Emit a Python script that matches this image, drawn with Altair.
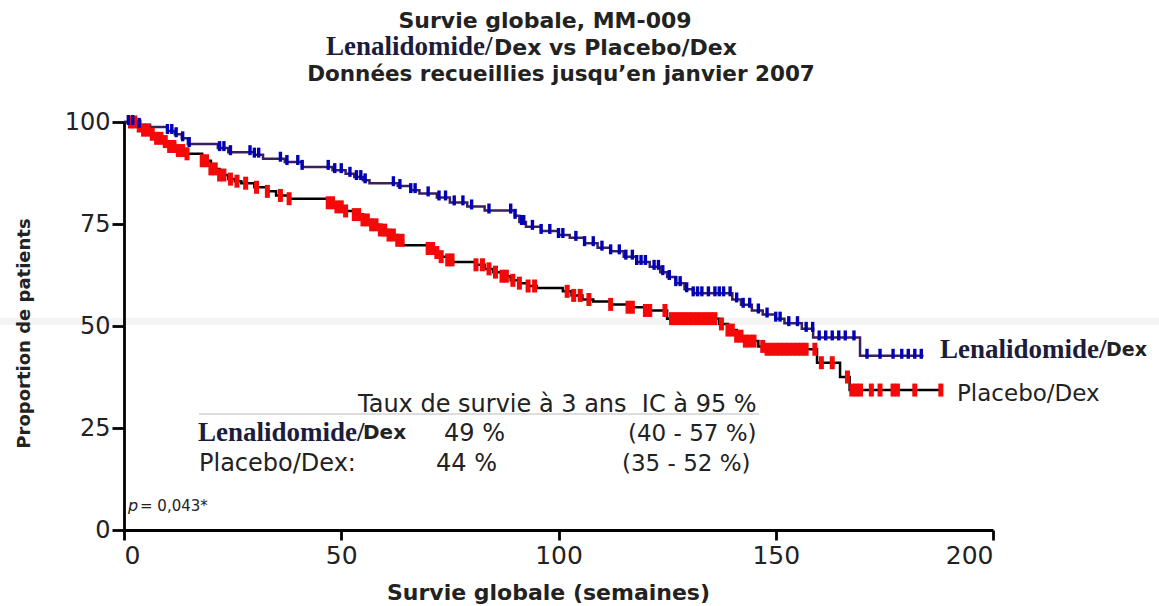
import altair as alt
import pandas as pd

# ---------------- data ----------------
len_weeks = [0, 3, 6, 10, 11.7, 13.3, 14.7, 21.6, 24, 30, 32, 37, 41, 48, 51, 53, 55, 56.5,
             63, 66, 68, 72, 75, 79, 83, 90, 91, 92.5, 96, 100, 102.6, 106, 109, 112, 115,
             118, 121, 123.4, 125, 127, 129, 131, 140, 142, 144.5, 147, 150, 152, 156, 158.6,
             169.4, 184]
len_surv = [100, 99.3, 98.8, 97.8, 97, 96, 94.6, 93.6, 92.6, 92, 91, 90.2, 89, 88.2, 87.3, 86.5,
            85.7, 85, 84.3, 83.3, 82.5, 81.5, 80.3, 79.3, 78.3, 77, 75.5, 74.3, 73.3, 72.3, 71.6,
            70.3, 69.2, 68.3, 67, 65.7, 64.5, 63.2, 62, 60.5, 59, 58, 56.5, 55.2, 53.8, 52.8, 51.8,
            50.7, 49.3, 47.2, 42.7, 42.7]
len_censor = [1, 2, 3.5, 10, 11, 12, 13.5, 15, 22, 23, 24.5, 29, 30, 31, 36, 37.5, 40, 41, 47, 48.5,
              50, 52, 53.5, 54.5, 55.5, 62, 63.5, 66, 67, 70, 72.5, 74, 76, 78, 80, 84, 89, 90,
              91.5, 92, 94, 96, 98, 100, 101, 104, 106, 108, 110, 112, 114, 115.5, 117, 118, 119,
              120, 122, 123, 124, 125.5, 127, 128, 129.5, 131, 132, 133, 134.5, 136, 137, 138,
              139.5, 141, 142.5, 144, 146, 148, 150, 151, 153, 155, 157, 158.5, 160, 161.5, 163,
              164.5, 166, 168, 171, 174, 177, 179, 180.5, 182, 183.5]

pla_weeks = [0, 3, 4.5, 6, 7.5, 9, 10.5, 12, 14, 18, 20, 22, 24, 25.5, 27, 30, 33, 35, 38, 47, 49,
             51, 53, 55, 57, 59, 61, 63, 64.2, 70, 71.5, 73, 74.5, 75.7, 81, 83, 85, 87, 89, 91,
             93, 95, 101, 103, 105.5, 108, 112, 116, 120, 125, 137, 139, 141, 143, 146, 148, 159.5,
             164.8, 167, 188.5]
pla_surv = [100, 99, 98, 97, 96, 95.2, 94, 93, 92.2, 90.5, 88.5, 87, 86, 85.5, 85, 84, 83, 82,
            81.2, 80.2, 79.2, 78.2, 77.3, 76, 74.8, 73.5, 72.3, 71, 69.8, 69, 68, 67, 66.2, 65.7,
            65, 64, 63.2, 62.2, 61.2, 60.5, 59.8, 59.3, 58.5, 57.5, 56.5, 56, 55.3, 54.6, 53.8,
            51.8, 50.5, 49, 47.5, 46.3, 45, 44.3, 41, 37.5, 34.3, 34.3]
pla_censor = [1.5, 2.5, 3.5, 4.5, 5.5, 6.5, 7.5, 8.5, 9.5, 10.5, 11.5, 12.5, 13.5, 14.5, 18, 19,
              20, 21, 22, 23, 24.5, 26, 28, 30.5, 33, 36, 38, 47, 48, 49, 50, 51, 53, 54, 55, 56,
              57, 58, 59, 60, 61, 62, 63, 64, 70, 71, 72, 73, 74.5, 75.5, 81, 82.5, 84, 85.5, 87,
              88, 89.5, 91, 93, 94.5, 102, 103.5, 105, 107, 112, 116, 117, 120, 121, 124.5, 126,
              127, 128, 129, 130, 131, 132, 133, 134, 135, 136, 137.5, 139, 140, 141, 142, 143,
              144, 145, 147, 148, 149, 150, 151, 152, 153, 154, 155, 156, 157, 159, 160.5, 163,
              166.5, 167.5, 168.5, 169.5, 172, 174, 177, 178, 182, 188]

x_ticks = [0, 50, 100, 150, 200]
y_ticks = [0, 25, 50, 75, 100]

arms = ["Lenalidomide/Dex", "Placebo/Dex"]
title_lines = ["Survie globale, MM-009", "Lenalidomide/", "Dex vs Placebo/Dex",
               "Données recueillies jusqu\u2019en janvier 2007"]
table_header = "Taux de survie à 3 ans \u00a0IC à 95 %"
table_rates = ["49 %", "44 %"]
table_ci = ["(40 - 57 %)", "(35 - 52 %)"]
p_text = ["p", "= 0,043*"]

# ---------------- layout constants ----------------
OX, OY = 124, 122  # plot origin in the page
W, H = 869, 408
SANS = "DejaVu Sans"
SERIF = "Liberation Serif"


def level(weeks, surv, t):
    v = surv[0]
    for w, s in zip(weeks, surv):
        if w <= t:
            v = s
    return v


len_df = pd.DataFrame({"week": len_weeks, "surv": len_surv})
pla_df = pd.DataFrame({"week": pla_weeks, "surv": pla_surv})
len_c = pd.DataFrame({"week": len_censor,
                      "surv": [level(len_weeks, len_surv, t) for t in len_censor]})
pla_c = pd.DataFrame({"week": pla_censor,
                      "surv": [level(pla_weeks, pla_surv, t) for t in pla_censor]})

xs = alt.Scale(domain=[0, 200], nice=False, zero=False)
ys = alt.Scale(domain=[0, 100], nice=False)

x_axis = alt.Axis(values=x_ticks, grid=False, domainColor="black", domainWidth=2.8,
                  tickColor="black", tickWidth=2.8, tickSize=10, labelFont=SANS,
                  labelFontSize=25, labelColor="#222", labelPadding=3, zindex=2,
                  title="Survie globale (semaines)", titleFont=SANS, titleFontSize=22,
                  titleFontWeight="bold", titleColor="#222", titleX=424, titleY=62,
                  titleBaseline="middle", titleAlign="center")
y_axis = alt.Axis(values=y_ticks, grid=False, domainColor="black", domainWidth=2.8,
                  tickColor="black", tickWidth=2.8, tickSize=12, labelFont=SANS,
                  labelFontSize=24, labelColor="#222", labelPadding=2, zindex=2,
                  title="Proportion de patients", titleFont=SANS, titleFontSize=18,
                  titleFontWeight="bold", titleColor="#222", titleX=-100, titleY=211,
                  titleBaseline="middle", titleAlign="center", titleAngle=270)

band = alt.Chart(pd.DataFrame({"a": [0]})).mark_rect(color="#f4f4f4").encode(
    x=alt.value(-OX), x2=alt.value(1159 - OX), y=alt.value(318 - OY), y2=alt.value(325 - OY))

line_len = alt.Chart(len_df).mark_line(interpolate="step-after", color="#3a1f5c",
                                       strokeWidth=2.5).encode(
    x=alt.X("week:Q", scale=xs, axis=x_axis),
    y=alt.Y("surv:Q", scale=ys, axis=y_axis))
line_pla = alt.Chart(pla_df).mark_line(interpolate="step-after", color="black",
                                       strokeWidth=2.5).encode(
    x=alt.X("week:Q", scale=xs), y=alt.Y("surv:Q", scale=ys))

tick_len = alt.Chart(len_c).mark_tick(orient="vertical", color="#0000b8", thickness=3.4,
                                      size=10, yOffset=-2, opacity=1).encode(
    x=alt.X("week:Q", scale=xs), y=alt.Y("surv:Q", scale=ys))
tick_pla = alt.Chart(pla_c).mark_tick(orient="vertical", color="#f40808", thickness=5,
                                      size=13, opacity=1).encode(
    x=alt.X("week:Q", scale=xs), y=alt.Y("surv:Q", scale=ys))


def txt(s, x, y, size, font=SANS, weight="normal", align="left", color="#222",
        style="normal", baseline="alphabetic"):
    return alt.Chart(pd.DataFrame({"t": [s]})).mark_text(
        align=align, baseline=baseline, font=font, fontSize=size, fontWeight=weight,
        fontStyle=style, color=color).encode(
        x=alt.value(x - OX), y=alt.value(y - OY), text="t:N")


texts = [
    txt(title_lines[0], 545, 28, 22, weight="bold", align="center"),
    txt(title_lines[1], 326, 55, 27, font=SERIF, weight="bold", color="#1c1c3c"),
    txt(title_lines[2], 494, 55, 22, weight="bold"),
    txt(title_lines[3], 561, 81, 21.5, weight="bold", align="center"),
    # right-hand labels
    txt(title_lines[1], 940, 358, 27, font=SERIF, weight="bold", color="#1c1c3c"),
    txt("Dex", 1106, 356, 19, weight="bold"),
    txt(arms[1], 957, 401, 23),
    # table
    txt(table_header, 358, 412, 24),
    txt(title_lines[1], 198, 441, 27, font=SERIF, weight="bold", color="#1c1c3c"),
    txt("Dex", 363, 439, 20, weight="bold"),
    txt(table_rates[0], 444, 441, 24),
    txt(table_ci[0], 628, 441, 23),
    txt(arms[1] + ":", 199, 471, 24),
    txt(table_rates[1], 436, 471, 24),
    txt(table_ci[1], 622, 471, 23),
    # p value
    txt(p_text[0], 128, 511, 16, style="italic"),
    txt(p_text[1], 140, 511, 15),
]

rule = alt.Chart(pd.DataFrame({"a": [0]})).mark_rule(color="#bbbbbb", strokeWidth=1.2).encode(
    x=alt.value(199 - OX), x2=alt.value(759 - OX), y=alt.value(414 - OY))

chart = alt.layer(band, line_pla, line_len, tick_pla, tick_len, rule, *texts).properties(
    width=W, height=H,
    padding={"left": OX, "top": OY, "right": 1159 - OX - W, "bottom": 606 - OY - H},
    autosize=alt.AutoSizeParams(type="none"),
    background="white",
).configure_view(strokeWidth=0)

chart.save("out.html", embed_options={"renderer": "svg", "actions": False})
